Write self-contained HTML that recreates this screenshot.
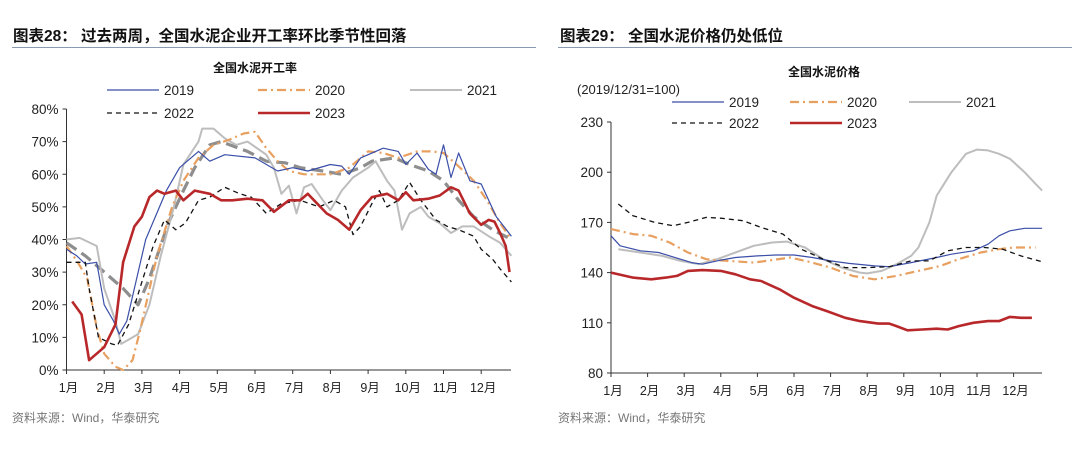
<!DOCTYPE html>
<html><head><meta charset="utf-8">
<style>
body{margin:0;background:#fff;width:1080px;height:446px;overflow:hidden;font-family:"Liberation Sans","Noto Sans CJK SC",sans-serif;}
svg text{font-family:"Liberation Sans","Noto Sans CJK SC",sans-serif;}
</style></head><body>
<svg id="root" width="1080" height="446">
<text x="13" y="41" font-size="15.5" font-weight="bold" fill="#111">图表28：  过去两周，全国水泥企业开工率环比季节性回落</text>
<line x1="12" y1="47.5" x2="536" y2="47.5" stroke="#8a9ab0" stroke-width="1"/>
<text x="560" y="41" font-size="15.5" font-weight="bold" fill="#111">图表29：  全国水泥价格仍处低位</text>
<line x1="558" y1="47.5" x2="1072" y2="47.5" stroke="#8a9ab0" stroke-width="1"/>
<text x="255" y="72" font-size="12" font-weight="bold" text-anchor="middle" fill="#111">全国水泥开工率</text>
<text x="824" y="76" font-size="12" font-weight="bold" text-anchor="middle" fill="#111">全国水泥价格</text>
<text x="577" y="94" font-size="13" fill="#222">(2019/12/31=100)</text>
<text x="12" y="422" font-size="12" fill="#777">资料来源：Wind，华泰研究</text>
<text x="558" y="422" font-size="12" fill="#777">资料来源：Wind，华泰研究</text>
<g id="left"></g>
<g id="right"></g>
</svg>
<script>
const months=["1月","2月","3月","4月","5月","6月","7月","8月","9月","10月","11月","12月"];
const leftTicks=[0,10,20,30,40,50,60,70,80];
const rightTicks=[80,110,140,170,200,230];
// left: utilization %, x in months
const L19x=[0,0.27,0.5,0.8,1.0,1.25,1.4,1.6,1.8,2.1,2.65,3.0,3.5,3.8,4.2,5.0,5.6,6.0,6.4,7.0,7.3,7.5,7.8,8.4,8.8,9.0,9.3,9.6,9.8,10.0,10.2,10.4,10.7,11.0,11.2,11.4,11.8];
const L19y=[37,35,32.5,33,20,15,11,15,25,40,55,62,67,64,66,65,61,62,61,63,62.5,60,65,68,67,63,66.5,61.5,60,69,59,66.5,58,57,52,47,41];
const L20x=[0,0.3,0.55,0.8,1.0,1.3,1.5,1.75,1.95,2.4,2.8,3.1,3.5,3.9,4.3,4.7,5.0,5.3,5.6,5.9,6.3,7.0,7.5,8.0,8.4,8.8,9.3,9.7,10.0,10.35,10.8,11.15,11.5,11.8];
const L20y=[38,33,28,13,5,1,0,3,12,35,50,58,65,69,70.5,72.5,73,68,64,61,60,60,62,67,66.5,65,67,67,66.5,63,58,52,45,40];
const L21x=[0,0.35,0.8,1.0,1.3,1.45,1.75,1.9,2.2,2.5,2.85,3.1,3.5,3.6,3.9,4.2,4.5,4.8,5.3,5.5,5.7,5.9,6.1,6.3,6.5,6.8,7.0,7.3,7.6,8.0,8.2,8.5,8.7,8.9,9.1,9.4,9.6,9.9,10.2,10.5,10.8,11.2,11.5,11.8];
const L21y=[40,40.5,38,25,15,8,10,11,20,35,50,63,70,74,74,71,69,70,66,62,54,56.5,48,56,57,52,49,55,59,62,64,58,55,43,48,50,47,45,42,44,44,41,39,35];
const L22x=[0,0.5,0.6,0.85,1.2,1.35,1.65,2.0,2.3,2.6,2.9,3.15,3.5,3.8,4.2,4.6,4.9,5.3,5.7,6.2,6.7,7.1,7.4,7.6,7.8,8.1,8.3,8.5,8.8,9.1,9.4,9.8,10.1,10.4,10.8,11.0,11.3,11.5,11.8];
const L22y=[33,33,25,10,8,7.5,14,27,38,46,43,45,52,53,56,54,53,48,51,52,50,52,50,41.5,44,51,55,50,52,57.5,52,46,44,43,41,37,34,31,27];
const L23x=[0.15,0.4,0.6,1.0,1.3,1.5,1.8,2.0,2.2,2.4,2.6,2.9,3.1,3.4,3.8,4.1,4.4,4.8,5.2,5.5,5.9,6.2,6.4,6.9,7.2,7.5,7.8,8.1,8.5,8.8,9.0,9.2,9.6,9.9,10.2,10.4,10.7,11.0,11.2,11.35,11.5,11.65,11.75];
const L23y=[21,17,3,7,14,33,44,47,53,55,54,55,52,55,54,52,52,52.5,52,48.5,52,52,54,48,46,43,49,53,54,52,54.5,52,52.5,53.5,56,55,48,44.5,46,45.5,42,38,30];
const LAx=[0,0.5,1.0,1.5,1.9,2.2,2.7,3.1,3.4,3.8,4.1,4.8,5.3,5.8,6.2,6.8,7.3,7.8,8.1,8.7,9.1,9.6,10.0,10.4,10.8,11.3,11.8];
const LAy=[39,35,30,25,20,28,45,55,62,69,70,67,64,63.5,62,61,60,62,64,65,63,61,58,52,47,43,40];
// right: price index
const R19x=[0,0.25,0.8,1.3,1.9,2.2,2.5,3.0,3.4,4.0,4.5,5.0,5.5,6.0,6.5,7.2,7.6,8.2,8.9,9.3,9.9,10.3,10.6,10.9,11.3,11.78];
const R19y=[162,156,153,152,148,146,145,147.5,149,150,150.5,150.5,149,147,145.5,144,143.5,146,149,151,153,157,162,165,166.5,166.5];
const R20x=[0,0.6,1.1,1.6,2.1,2.6,3.2,3.9,4.4,4.9,5.5,6.0,6.6,7.2,7.8,8.4,9.0,9.5,10.1,10.6,11.0,11.6];
const R20y=[166,163,162,158,152,148,147,146,147.5,149,146,143,138,136,138,141,144,148,152,154,155,155];
const R21x=[0.2,0.8,1.4,1.9,2.4,2.9,3.4,3.9,4.4,4.8,5.3,5.8,6.3,6.8,7.0,7.4,7.8,8.2,8.4,8.7,8.9,9.3,9.7,10.0,10.3,10.6,10.9,11.3,11.6,11.78];
const R21y=[154,152,150,147,145,148,152,156,158,158.5,155,148,143,140,139.5,141,145,150,155,170,186,200,211,213.5,213,211,208,200,193,189];
const R22x=[0.2,0.6,1.2,1.7,2.1,2.6,3.0,3.6,4.1,4.7,5.2,5.8,6.4,7.0,7.6,8.2,8.7,9.2,9.7,10.2,10.7,11.2,11.78];
const R22y=[181,174,170,168,170,173,172.5,171,167,163,154,148,143,143,143.5,147,147,153,155,155,154,150,146.5];
const R23x=[0,0.6,1.1,1.5,1.8,2.1,2.5,3.0,3.4,3.8,4.1,4.6,5.0,5.5,5.9,6.4,6.8,7.3,7.6,7.8,8.1,8.5,8.9,9.2,9.5,9.9,10.3,10.6,10.9,11.2,11.5];
const R23y=[140,137,136,137,138,141,141.5,141,139,136,135,130,125,120,117,113,111,109.5,109.5,108,105.5,106,106.5,106,108,110,111,111,113.5,113,113];

const NS="http://www.w3.org/2000/svg";
function mk(parent,tag,attrs){const e=document.createElementNS(NS,tag);for(const k in attrs)e.setAttribute(k,attrs[k]);parent.appendChild(e);return e;}
function pathD(xs,ys,sx,sy){return xs.map((x,i)=>(i?"L":"M")+sx(x).toFixed(1)+","+sy(ys[i]).toFixed(1)).join("");}
const styles={
 s19:{stroke:"#3b4fa8","stroke-width":1.2,fill:"none"},
 s20:{stroke:"#e8a060","stroke-width":2.2,"stroke-dasharray":"9,4,2,4",fill:"none"},
 s21:{stroke:"#bdbdbd","stroke-width":2,fill:"none"},
 s22:{stroke:"#111","stroke-width":1.3,"stroke-dasharray":"5,4",fill:"none"},
 s23:{stroke:"#b8282a","stroke-width":2.6,fill:"none"},
 sAvg:{stroke:"#8e8e8e","stroke-width":3.2,"stroke-dasharray":"12,6",fill:"none"}
};
function drawChart(g,cfg){
 const sx=m=>cfg.x0+m*cfg.mw, sy=v=>cfg.y0-(v-cfg.vmin)*(cfg.y0-cfg.y1)/(cfg.vmax-cfg.vmin);
 let a=mk(g,"line",{x1:cfg.x0,y1:cfg.y0,x2:cfg.x0,y2:cfg.y1,stroke:"#333","stroke-width":1});
 
 
 a=mk(g,"line",{x1:cfg.x0,y1:cfg.y0,x2:cfg.xEnd,y2:cfg.y0,stroke:"#333","stroke-width":1});
 
 
 cfg.ticks.forEach(v=>{
  mk(g,"line",{x1:cfg.x0-4,y1:sy(v),x2:cfg.x0,y2:sy(v),stroke:"#333"});
  const t=mk(g,"text",{x:cfg.x0-8,y:sy(v)+5,"font-size":13.5,"text-anchor":"end",fill:"#222"});
  t.textContent=cfg.fmt(v);
  
  
 });
 months.forEach((m,i)=>{
  mk(g,"line",{x1:sx(i),y1:cfg.y0,x2:sx(i),y2:cfg.y0+4,stroke:"#333"});
  const t=mk(g,"text",{x:sx(i)+2,y:cfg.y0+22,"font-size":12.5,"text-anchor":"middle",fill:"#222"});
  t.textContent=m;
  
  
 });
 cfg.series.forEach(s=>{
  const p=mk(g,"path",Object.assign({d:pathD(s.x,s.y,sx,sy),"stroke-linejoin":"round"},styles[s.st]));
  
  
 });
 cfg.legend.forEach(l=>{
  mk(g,"line",Object.assign({x1:l.x,y1:l.y,x2:l.x+52,y2:l.y},styles[l.st]));
  const t=mk(g,"text",{x:l.x+57,y:l.y+5,"font-size":13.5,fill:"#222"});
  t.textContent=l.name;
  
  
 });
}
drawChart(document.getElementById('left'),{x0:66.5,y0:370,y1:109,xEnd:511,mw:37.7,vmin:0,vmax:80,ticks:leftTicks,fmt:v=>v+"%",
 series:[{name:"avg",x:LAx,y:LAy,st:"sAvg"},{name:"2021",x:L21x,y:L21y,st:"s21"},{name:"2020",x:L20x,y:L20y,st:"s20"},{name:"2019",x:L19x,y:L19y,st:"s19"},{name:"2022",x:L22x,y:L22y,st:"s22"},{name:"2023",x:L23x,y:L23y,st:"s23"}],
 legend:[{name:"2019",x:107,y:90,st:"s19"},{name:"2020",x:258,y:90,st:"s20"},{name:"2021",x:410,y:90,st:"s21"},{name:"2022",x:107,y:113,st:"s22"},{name:"2023",x:258,y:113,st:"s23"}]});
drawChart(document.getElementById('right'),{x0:611,y0:373,y1:122,xEnd:1042,mw:36.6,vmin:80,vmax:230,ticks:rightTicks,fmt:v=>v,
 series:[{name:"2021",x:R21x,y:R21y,st:"s21"},{name:"2020",x:R20x,y:R20y,st:"s20"},{name:"2019",x:R19x,y:R19y,st:"s19"},{name:"2022",x:R22x,y:R22y,st:"s22"},{name:"2023",x:R23x,y:R23y,st:"s23"}],
 legend:[{name:"2019",x:672,y:102,st:"s19"},{name:"2020",x:790,y:102,st:"s20"},{name:"2021",x:909,y:102,st:"s21"},{name:"2022",x:672,y:123,st:"s22"},{name:"2023",x:790,y:123,st:"s23"}]});
</script>
</body></html>
